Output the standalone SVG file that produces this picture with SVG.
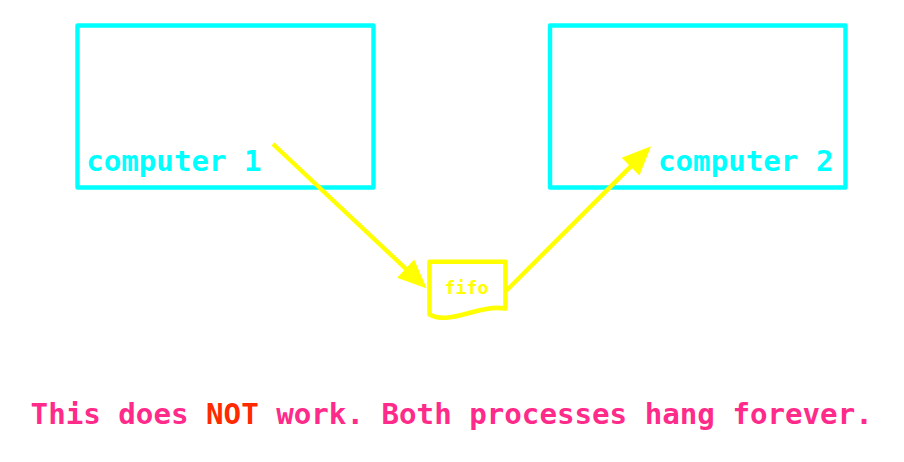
<svg xmlns="http://www.w3.org/2000/svg" width="904" height="462" viewBox="0 0 904 462">
<defs>
<marker id="arrow" markerUnits="userSpaceOnUse" markerWidth="32" markerHeight="28" refX="10" refY="13" orient="auto"><path d="M0,0.5 L29,13 L0,25.5 Z" fill="#ffff00"/></marker>
</defs>
<style>
text{font-family:"DejaVu Sans Mono","Liberation Mono",monospace;font-weight:bold}
.c{fill:#fff;stroke:#00ffff;stroke-width:4.4;stroke-linejoin:round}
.l{fill:#00ffff;font-size:29.15px}
.m{fill:#ff2a8a;font-size:29.15px}
</style>
<rect width="904" height="462" fill="#fff"/>
<g id="computer1"><rect class="c" x="77.5" y="25.5" width="296" height="162"/><text class="l" x="86.2" y="171">computer 1</text></g>
<g id="computer2"><rect class="c" x="550" y="25.5" width="295.5" height="162"/><text class="l" x="658" y="171">computer 2</text></g>
<g id="fifo"><path d="M429.5,261.7 H505.5 V308.6 C480,303.5 450,326 429.5,314.5 Z" fill="#fff" stroke="#ffff00" stroke-width="4.6" stroke-linejoin="round"/><text x="466.5" y="294" text-anchor="middle" font-size="18.2" fill="#ffff00">fifo</text></g>
<g id="connectors" fill="none" stroke="#ffff00" stroke-width="4.4">
<path d="M273,144 L412.9,275.4" marker-end="url(#arrow)"/>
<path d="M506,291 L637.6,159.6" marker-end="url(#arrow)"/>
</g>
<text class="m" x="30.6" y="424">This does <tspan fill="#ff2a00">NOT</tspan> work. Both processes hang forever.</text>
</svg>
